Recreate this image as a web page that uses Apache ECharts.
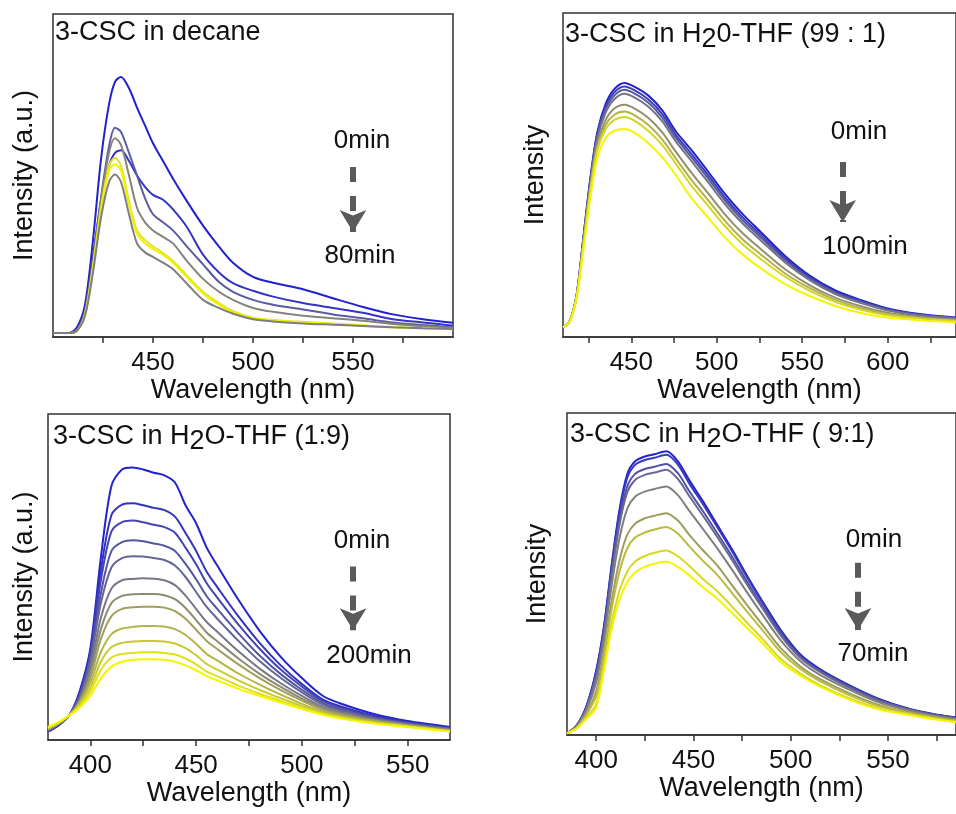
<!DOCTYPE html>
<html>
<head>
<meta charset="utf-8">
<script src="https://cdn.jsdelivr.net/npm/echarts@6.0.0/dist/echarts.min.js"></script>
<style>
  html, body { margin: 0; padding: 0; background: #fff; }
  #main { width: 956px; height: 814px; }
</style>
</head>
<body>
<div id="main"></div>
<script>
// ---------- panel 1 : decane ----------
var wlDecane = [400, 408, 412, 416, 420, 424, 428, 431, 434, 438, 442, 446, 450, 455, 460, 467, 475, 483, 490, 500, 510, 525, 540, 555, 570, 585, 600];
var decaneA = [0.012, 0.012, 0.03, 0.10, 0.30, 0.55, 0.72, 0.79, 0.805, 0.77, 0.71, 0.655, 0.60, 0.545, 0.49, 0.42, 0.345, 0.28, 0.23, 0.186, 0.168, 0.148, 0.12, 0.093, 0.07, 0.055, 0.044];
var decaneB = [0.012, 0.012, 0.025, 0.085, 0.25, 0.42, 0.53, 0.57, 0.578, 0.545, 0.50, 0.465, 0.44, 0.425, 0.395, 0.34, 0.255, 0.20, 0.167, 0.143, 0.125, 0.105, 0.09, 0.075, 0.055, 0.045, 0.035];
var decaneC = [0.012, 0.012, 0.02, 0.08, 0.24, 0.43, 0.59, 0.648, 0.635, 0.57, 0.50, 0.43, 0.38, 0.355, 0.33, 0.28, 0.225, 0.17, 0.14, 0.115, 0.10, 0.085, 0.07, 0.058, 0.045, 0.037, 0.03];
var decaneD = [0.012, 0.012, 0.02, 0.075, 0.23, 0.42, 0.57, 0.615, 0.595, 0.50, 0.40, 0.355, 0.33, 0.31, 0.29, 0.235, 0.18, 0.14, 0.115, 0.09, 0.078, 0.066, 0.058, 0.05, 0.04, 0.033, 0.028];
var decaneE = [0.012, 0.012, 0.02, 0.07, 0.22, 0.40, 0.53, 0.555, 0.53, 0.42, 0.33, 0.30, 0.28, 0.26, 0.235, 0.19, 0.14, 0.105, 0.08, 0.06, 0.053, 0.047, 0.042, 0.036, 0.03, 0.027, 0.024];
var decaneF = [0.012, 0.012, 0.02, 0.068, 0.215, 0.39, 0.515, 0.535, 0.515, 0.41, 0.32, 0.29, 0.272, 0.255, 0.23, 0.185, 0.135, 0.10, 0.076, 0.058, 0.051, 0.045, 0.04, 0.035, 0.03, 0.027, 0.024];
var decaneG = [0.012, 0.012, 0.02, 0.065, 0.20, 0.37, 0.48, 0.503, 0.48, 0.38, 0.29, 0.262, 0.248, 0.23, 0.21, 0.165, 0.115, 0.09, 0.072, 0.055, 0.048, 0.042, 0.038, 0.034, 0.03, 0.027, 0.025];
var decaneColors = ['#2222cc', '#3434c4', '#5c5ca6', '#84847a', '#e2e226', '#f2f200', '#7e7e7e'];

// ---------- panel 2 : H2O-THF 99:1 ----------
var wl99 = [410, 414, 418, 422, 426, 430, 435, 440, 446, 452, 460, 468, 476, 485, 495, 505, 515, 525, 540, 555, 570, 585, 600, 620, 640];
var thf99 = [
  [0.03, 0.05, 0.13, 0.31, 0.49, 0.63, 0.72, 0.765, 0.784, 0.772, 0.745, 0.70, 0.635, 0.578, 0.51, 0.44, 0.38, 0.328, 0.25, 0.187, 0.142, 0.113, 0.088, 0.07, 0.06],
  [0.03, 0.05, 0.13, 0.31, 0.485, 0.625, 0.712, 0.755, 0.773, 0.761, 0.733, 0.689, 0.624, 0.566, 0.499, 0.429, 0.37, 0.319, 0.243, 0.182, 0.138, 0.11, 0.086, 0.068, 0.059],
  [0.03, 0.05, 0.13, 0.305, 0.48, 0.618, 0.703, 0.745, 0.763, 0.751, 0.723, 0.678, 0.615, 0.556, 0.489, 0.42, 0.361, 0.311, 0.237, 0.178, 0.135, 0.107, 0.084, 0.067, 0.058],
  [0.03, 0.05, 0.13, 0.30, 0.475, 0.61, 0.693, 0.734, 0.751, 0.739, 0.711, 0.666, 0.604, 0.544, 0.477, 0.409, 0.351, 0.302, 0.23, 0.173, 0.131, 0.104, 0.082, 0.066, 0.057],
  [0.03, 0.05, 0.128, 0.295, 0.465, 0.595, 0.67, 0.705, 0.717, 0.705, 0.676, 0.632, 0.572, 0.508, 0.443, 0.377, 0.321, 0.275, 0.209, 0.158, 0.12, 0.094, 0.075, 0.061, 0.053],
  [0.03, 0.05, 0.127, 0.29, 0.458, 0.585, 0.655, 0.686, 0.696, 0.684, 0.654, 0.61, 0.551, 0.486, 0.422, 0.357, 0.302, 0.258, 0.196, 0.149, 0.113, 0.088, 0.071, 0.058, 0.051],
  [0.03, 0.05, 0.126, 0.285, 0.45, 0.575, 0.642, 0.670, 0.679, 0.667, 0.636, 0.593, 0.535, 0.468, 0.405, 0.341, 0.287, 0.244, 0.186, 0.141, 0.107, 0.083, 0.067, 0.056, 0.049],
  [0.03, 0.048, 0.12, 0.27, 0.43, 0.55, 0.615, 0.636, 0.642, 0.63, 0.598, 0.555, 0.50, 0.43, 0.368, 0.306, 0.255, 0.215, 0.163, 0.125, 0.095, 0.073, 0.06, 0.051, 0.045]
];

// ---------- panel 3 : H2O-THF 1:9 ----------
var wl19 = [380, 385, 390, 395, 400, 405, 410, 415, 420, 425, 430, 435, 440, 445, 450, 455, 460, 470, 480, 490, 500, 510, 520, 535, 550, 570];
var thf19 = [
  [0.026, 0.045, 0.075, 0.15, 0.28, 0.56, 0.78, 0.83, 0.836, 0.83, 0.82, 0.812, 0.79, 0.72, 0.665, 0.59, 0.535, 0.43, 0.335, 0.255, 0.19, 0.135, 0.108, 0.078, 0.058, 0.04],
  [0.027, 0.046, 0.075, 0.145, 0.27, 0.52, 0.69, 0.722, 0.726, 0.72, 0.712, 0.705, 0.685, 0.635, 0.58, 0.516, 0.469, 0.379, 0.298, 0.229, 0.172, 0.124, 0.10, 0.073, 0.055, 0.037],
  [0.028, 0.047, 0.075, 0.14, 0.26, 0.49, 0.64, 0.668, 0.673, 0.668, 0.66, 0.653, 0.636, 0.59, 0.539, 0.481, 0.437, 0.354, 0.28, 0.216, 0.164, 0.119, 0.096, 0.07, 0.053, 0.036],
  [0.029, 0.048, 0.075, 0.135, 0.25, 0.45, 0.58, 0.607, 0.613, 0.61, 0.603, 0.596, 0.58, 0.54, 0.493, 0.441, 0.402, 0.327, 0.259, 0.202, 0.154, 0.113, 0.091, 0.067, 0.051, 0.035],
  [0.03, 0.049, 0.075, 0.13, 0.24, 0.42, 0.53, 0.558, 0.564, 0.563, 0.558, 0.552, 0.535, 0.50, 0.454, 0.408, 0.372, 0.304, 0.242, 0.19, 0.146, 0.108, 0.088, 0.065, 0.05, 0.034],
  [0.031, 0.05, 0.075, 0.125, 0.22, 0.375, 0.465, 0.49, 0.494, 0.496, 0.495, 0.49, 0.475, 0.443, 0.402, 0.362, 0.332, 0.272, 0.219, 0.174, 0.135, 0.101, 0.083, 0.062, 0.048, 0.032],
  [0.032, 0.05, 0.075, 0.12, 0.205, 0.34, 0.42, 0.442, 0.447, 0.448, 0.448, 0.444, 0.432, 0.405, 0.368, 0.33, 0.303, 0.25, 0.203, 0.163, 0.127, 0.097, 0.079, 0.06, 0.046, 0.031],
  [0.033, 0.051, 0.075, 0.117, 0.19, 0.31, 0.38, 0.402, 0.407, 0.409, 0.409, 0.406, 0.395, 0.372, 0.338, 0.304, 0.279, 0.232, 0.19, 0.153, 0.121, 0.093, 0.076, 0.058, 0.045, 0.03],
  [0.035, 0.052, 0.075, 0.113, 0.175, 0.27, 0.325, 0.342, 0.347, 0.35, 0.35, 0.348, 0.34, 0.322, 0.295, 0.264, 0.244, 0.204, 0.17, 0.139, 0.111, 0.087, 0.072, 0.055, 0.043, 0.028],
  [0.036, 0.053, 0.075, 0.108, 0.16, 0.24, 0.285, 0.298, 0.302, 0.304, 0.304, 0.302, 0.296, 0.282, 0.26, 0.233, 0.216, 0.183, 0.154, 0.128, 0.104, 0.083, 0.068, 0.053, 0.042, 0.027],
  [0.038, 0.054, 0.075, 0.104, 0.148, 0.215, 0.253, 0.264, 0.267, 0.269, 0.269, 0.267, 0.262, 0.25, 0.232, 0.21, 0.196, 0.167, 0.142, 0.12, 0.098, 0.079, 0.066, 0.051, 0.041, 0.027],
  [0.04, 0.055, 0.075, 0.10, 0.135, 0.19, 0.225, 0.24, 0.246, 0.248, 0.248, 0.246, 0.24, 0.229, 0.214, 0.196, 0.183, 0.157, 0.135, 0.115, 0.095, 0.077, 0.064, 0.05, 0.04, 0.026]
];

// ---------- panel 4 : H2O-THF 9:1 ----------
var wl91 = [385, 390, 395, 400, 404, 408, 412, 416, 420, 425, 430, 436, 442, 448, 455, 462, 470, 478, 486, 495, 505, 515, 530, 545, 560, 575, 590];
var thf91 = [
  [0.005, 0.03, 0.09, 0.2, 0.337, 0.53, 0.70, 0.81, 0.85, 0.865, 0.872, 0.881, 0.85, 0.79, 0.725, 0.655, 0.575, 0.49, 0.41, 0.325, 0.25, 0.205, 0.155, 0.113, 0.083, 0.063, 0.05],
  [0.005, 0.03, 0.089, 0.196, 0.333, 0.524, 0.691, 0.799, 0.839, 0.854, 0.861, 0.87, 0.84, 0.78, 0.716, 0.648, 0.569, 0.485, 0.406, 0.322, 0.248, 0.203, 0.154, 0.112, 0.082, 0.063, 0.05],
  [0.005, 0.029, 0.085, 0.187, 0.321, 0.507, 0.668, 0.772, 0.811, 0.826, 0.833, 0.842, 0.813, 0.756, 0.694, 0.629, 0.553, 0.472, 0.395, 0.314, 0.242, 0.199, 0.15, 0.109, 0.081, 0.061, 0.048],
  [0.005, 0.028, 0.083, 0.181, 0.314, 0.497, 0.653, 0.754, 0.792, 0.808, 0.815, 0.824, 0.795, 0.741, 0.68, 0.617, 0.542, 0.463, 0.389, 0.308, 0.239, 0.196, 0.147, 0.107, 0.08, 0.06, 0.048],
  [0.005, 0.027, 0.077, 0.163, 0.293, 0.466, 0.611, 0.703, 0.74, 0.756, 0.764, 0.772, 0.745, 0.695, 0.639, 0.582, 0.512, 0.439, 0.369, 0.293, 0.229, 0.187, 0.141, 0.102, 0.077, 0.058, 0.046],
  [0.005, 0.024, 0.068, 0.135, 0.26, 0.418, 0.543, 0.622, 0.656, 0.673, 0.681, 0.689, 0.666, 0.621, 0.573, 0.528, 0.464, 0.40, 0.338, 0.269, 0.213, 0.174, 0.13, 0.094, 0.072, 0.055, 0.042],
  [0.005, 0.023, 0.063, 0.121, 0.243, 0.393, 0.508, 0.58, 0.613, 0.629, 0.638, 0.646, 0.625, 0.585, 0.54, 0.499, 0.44, 0.38, 0.322, 0.257, 0.205, 0.167, 0.124, 0.09, 0.069, 0.053, 0.04],
  [0.005, 0.021, 0.054, 0.096, 0.214, 0.35, 0.448, 0.508, 0.539, 0.556, 0.566, 0.573, 0.555, 0.524, 0.484, 0.448, 0.398, 0.346, 0.295, 0.236, 0.191, 0.155, 0.114, 0.083, 0.065, 0.049, 0.037],
  [0.005, 0.02, 0.05, 0.085, 0.2, 0.33, 0.42, 0.475, 0.505, 0.522, 0.532, 0.539, 0.522, 0.495, 0.458, 0.425, 0.378, 0.33, 0.282, 0.226, 0.184, 0.15, 0.11, 0.08, 0.063, 0.048, 0.036]
];

// tick positions and labels
var ticksDecane = [425, 450, 475, 500, 525, 550, 575];
var labelsDecane = [450, 500, 550];
var ticks99 = [425, 450, 475, 500, 525, 550, 575, 600, 625];
var labels99 = [450, 500, 550, 600];
var ticks19 = [400, 425, 450, 475, 500, 525, 550];
var labels19 = [400, 450, 500, 550];
var ticks91 = [400, 425, 450, 475, 500, 525, 550, 575];
var labels91 = [400, 450, 500, 550];

var FONT = '"Liberation Sans", Arial, sans-serif';
var TXT = '#111';

// blue -> gray -> yellow
function ramp(n) {
    var a = [34, 34, 208], m = [128, 128, 128], b = [245, 245, 0];
    var out = [];
    for (var i = 0; i < n; i++) {
        var t = n === 1 ? 0 : i / (n - 1);
        var p, q, s;
        if (t < 0.5) { p = a; q = m; s = t / 0.5; } else { p = m; q = b; s = (t - 0.5) / 0.5; }
        var c = [0, 1, 2].map(function (k) { return Math.round(p[k] + (q[k] - p[k]) * s); });
        out.push('rgb(' + c.join(',') + ')');
    }
    return out;
}

function makeSeries(idx, xs, list, colors) {
    return list.map(function (ys, i) {
        return {
            type: 'line',
            xAxisIndex: idx,
            yAxisIndex: idx,
            data: xs.map(function (x, j) { return [x, ys[j]]; }),
            showSymbol: false,
            smooth: 0.3,
            silent: true,
            lineStyle: { width: 2, color: colors[i] },
            itemStyle: { color: colors[i] },
            z: 2
        };
    });
}

function arrow(x, y0, y1) {
    return {
        silent: true,
        symbol: ['none', 'arrow'],
        symbolSize: [20, 22],
        lineStyle: { color: '#5a5a5a', width: 6, type: [15, 14], opacity: 1 },
        label: { show: false },
        emphasis: { disabled: true },
        data: [[{ coord: [x, y0] }, { coord: [x, y1] }]]
    };
}

function xAx(idx, min, max, ticks, labels) {
    return {
        type: 'value', gridIndex: idx, min: min, max: max,
        axisLine: { show: true, lineStyle: { color: '#333', width: 1.5 } },
        axisTick: { show: true, inside: false, length: 6, customValues: ticks, lineStyle: { color: '#333', width: 1.5 } },
        axisLabel: { customValues: labels, margin: 13, fontSize: 26, color: TXT, fontFamily: FONT },
        splitLine: { show: false },
        name: 'Wavelength (nm)', nameLocation: 'middle', nameGap: 39,
        nameTextStyle: { fontSize: 27, color: TXT, fontFamily: FONT }
    };
}

function yAx(idx, name, gap) {
    return {
        type: 'value', gridIndex: idx, min: 0, max: 1,
        axisLine: { show: false }, axisTick: { show: false }, axisLabel: { show: false },
        splitLine: { show: false },
        name: name, nameLocation: 'middle', nameGap: gap, nameRotate: 90,
        nameTextStyle: { fontSize: 27, color: TXT, fontFamily: FONT }
    };
}

function box(left, top, width, height) {
    return { left: left, top: top, width: width, height: height, show: true, borderColor: '#333', borderWidth: 1.5, backgroundColor: 'transparent' };
}

var decaneList = [decaneA, decaneB, decaneC, decaneD, decaneE, decaneF, decaneG];
var s1 = makeSeries(0, wlDecane, decaneList, decaneColors);
var s2 = makeSeries(1, wl99, thf99, ramp(thf99.length));
var s3 = makeSeries(2, wl19, thf19, ramp(thf19.length));
var s4 = makeSeries(3, wl91, thf91, ramp(thf91.length));
s1[0].markLine = arrow(550, 0.526, 0.325);
s2[0].markLine = arrow(573.7, 0.54, 0.355);
s3[0].markLine = arrow(524.2, 0.532, 0.337);
s4[0].markLine = arrow(534.6, 0.535, 0.326);

function label(x, y, text) {
    return { type: 'text', x: x, y: y, z: 10, style: { text: text, font: '26px ' + FONT, fill: TXT, align: 'center', verticalAlign: 'middle' } };
}
function title(x, y, text) {
    return {
        type: 'text', x: x, y: y, z: 10,
        style: {
            text: text, font: '27px ' + FONT, fill: TXT, align: 'left', verticalAlign: 'top',
            rich: { s: { fontSize: 27, fontFamily: FONT, fill: TXT, padding: [10, 0, 0, 0] } }
        }
    };
}

var myChart = echarts.init(document.getElementById('main'));
var option = {
    animation: false,
    backgroundColor: '#fff',
    grid: [box(53, 14, 400, 323), box(563, 13, 401, 324), box(48, 414, 402, 326), box(567, 413, 397, 322)],
    xAxis: [xAx(0, 400, 600, ticksDecane, labelsDecane), xAx(1, 410, 640, ticks99, labels99), xAx(2, 380, 570, ticks19, labels19), xAx(3, 385, 585, ticks91, labels91)],
    yAxis: [yAx(0, 'Intensity (a.u.)', 15), yAx(1, 'Intensity', 14), yAx(2, 'Intensity (a.u.)', 10), yAx(3, 'Intensity', 16)],
    series: s1.concat(s2, s3, s4),
    graphic: [
        title(55, 19, '3-CSC in decane'),
        title(565, 16, '3-CSC in H{s|2}0-THF (99 : 1)'),
        title(53, 418, '3-CSC in H{s|2}O-THF (1:9)'),
        title(570, 416, '3-CSC in H{s|2}O-THF ( 9:1)'),
        label(362, 141, '0min'), label(360, 256, '80min'),
        label(859, 132, '0min'), label(865, 247, '100min'),
        label(362, 541, '0min'), label(369, 656, '200min'),
        label(874, 540, '0min'), label(873, 654, '70min')
    ]
};
myChart.setOption(option);
</script>
</body>
</html>
